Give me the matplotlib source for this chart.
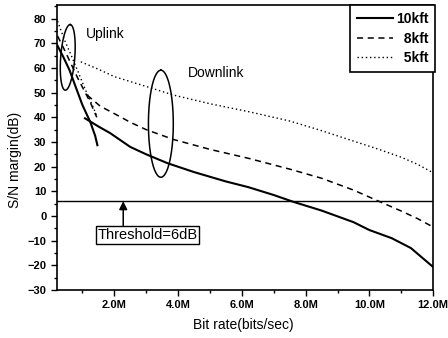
import matplotlib
matplotlib.use("Agg")
import matplotlib.pyplot as plt
import numpy as np
from matplotlib.ticker import MultipleLocator, FuncFormatter

# bit rate in Mbit/s, S/N margin in dB
# uplink curves
up10_x = [0.22, 0.4, 0.6, 0.77, 1.0, 1.25, 1.4, 1.47]
up10_y = [69.0, 64.5, 59.0, 53.0, 45.0, 38.0, 32.5, 28.7]
up8_x = [0.22, 0.45, 0.65, 0.85, 1.05, 1.25, 1.45]
up8_y = [73.0, 67.0, 61.5, 56.0, 51.0, 46.0, 40.0]
up5_x = [0.22, 0.45, 0.62, 0.87, 1.1, 1.34, 1.47]
up5_y = [79.0, 71.0, 66.0, 58.3, 51.0, 44.0, 40.0]

# downlink curves
dn10_x = [1.08, 1.5, 1.87, 2.5, 3.0, 3.67, 4.5, 5.5, 6.2, 7.0, 7.6, 8.5, 9.5, 10.0, 10.7, 11.3, 12.0]
dn10_y = [39.6, 36.3, 33.6, 28.0, 25.0, 21.4, 17.8, 14.0, 11.7, 8.5, 5.8, 2.2, -2.5, -5.7, -9.0, -13.0, -20.7]
dn8_x = [1.15, 1.56, 2.0, 2.5, 3.0, 3.86, 5.0, 6.2, 7.5, 8.5, 9.5, 10.36, 11.0, 11.5, 12.0]
dn8_y = [49.0, 44.5, 41.5, 38.0, 35.0, 31.0, 27.0, 23.4, 19.0, 15.3, 10.5, 5.6, 2.0, -1.0, -4.5]
dn5_x = [0.95, 1.5, 2.0, 2.5, 3.0, 3.86, 5.0, 6.28, 7.5, 8.4, 9.42, 10.3, 11.0, 11.5, 12.0]
dn5_y = [62.5, 59.5, 56.5, 54.5, 52.5, 49.0, 45.5, 42.1, 38.5, 35.0, 30.7, 27.0, 23.8, 21.0, 17.5]

threshold = 6
# figure space (U+2007) keeps the labels right-aligned like the original
labels = ['10kft', '\u20078kft', '\u20075kft']

plt.rcParams['font.family'] = ['Liberation Sans', 'DejaVu Sans']

fig = plt.figure(figsize=(4.48, 3.38), dpi=100)
ax = fig.add_axes([0.127, 0.142, 0.840, 0.843])

ax.plot(up10_x, up10_y, color='black', lw=1.5, ls='-', label=labels[0])
ax.plot(up8_x, up8_y, color='black', lw=1.1, ls=(0, (4, 3)), label=labels[1])
ax.plot(up5_x, up5_y, color='black', lw=1.0, ls=(0, (1, 2)), label=labels[2])
ax.plot(dn10_x, dn10_y, color='black', lw=1.5, ls='-')
ax.plot(dn8_x, dn8_y, color='black', lw=1.1, ls=(0, (4, 3)))
ax.plot(dn5_x, dn5_y, color='black', lw=1.0, ls=(0, (1, 2)))

ax.axhline(threshold, color='black', lw=1.0)


def ellipse(cx, cy, ax_vec, b_vec):
    t = np.linspace(0, 2 * np.pi, 200)
    xs = cx + np.cos(t) * ax_vec[0] + np.sin(t) * b_vec[0]
    ys = cy + np.cos(t) * ax_vec[1] + np.sin(t) * b_vec[1]
    ax.plot(xs, ys, color='black', lw=1.1)


ellipse(0.54, 64.3, (0.08, 13.3), (0.22, -0.3))
ellipse(3.46, 37.4, (0.0, 21.7), (0.39, 0.0))

ax.text(1.12, 73.6, 'Uplink', fontsize=10, va='center', ha='left')
ax.text(4.3, 58.0, 'Downlink', fontsize=10, va='center', ha='left')

ax.annotate('', xy=(2.28, threshold), xytext=(2.28, -4.1),
            arrowprops=dict(arrowstyle='-|>', color='black', lw=1.1,
                            mutation_scale=12, shrinkA=0, shrinkB=0))
ax.text(3.04, -7.7, 'Threshold=6dB', fontsize=10.5, ha='center', va='center',
        bbox=dict(boxstyle='square,pad=0.12', fc='white', ec='black', lw=1.0))

ax.set_xlim(0.2, 12.0)
ax.set_ylim(-30, 85.5)
ax.xaxis.set_major_locator(MultipleLocator(2))
ax.xaxis.set_minor_locator(MultipleLocator(1))
ax.yaxis.set_major_locator(MultipleLocator(10))
ax.yaxis.set_minor_locator(MultipleLocator(5))
ax.xaxis.set_major_formatter(FuncFormatter(lambda v, p: '%.1fM' % v))
ax.tick_params(axis='both', which='major', length=4, width=1, labelsize=8)
ax.tick_params(axis='both', which='minor', length=2, width=1)
for lab in ax.get_xticklabels() + ax.get_yticklabels():
    lab.set_fontweight('bold')

for sp in ax.spines.values():
    sp.set_linewidth(1.2)

ax.set_xlabel('Bit rate(bits/sec)', fontsize=10)
ax.set_ylabel('S/N margin(dB)', fontsize=10)
ax.xaxis.set_label_coords(0.495, -0.10)
ax.yaxis.set_label_coords(-0.093, 0.456)

leg = ax.legend(loc='upper right', bbox_to_anchor=(1.005, 1.0), borderaxespad=0,
                fancybox=False, framealpha=1, edgecolor='black',
                prop={'size': 10, 'weight': 'bold'}, handlelength=2.6,
                handletextpad=0.2, labelspacing=0.4, borderpad=0.5)
leg.get_frame().set_linewidth(1.2)

fig.savefig('out.png', dpi=100)
